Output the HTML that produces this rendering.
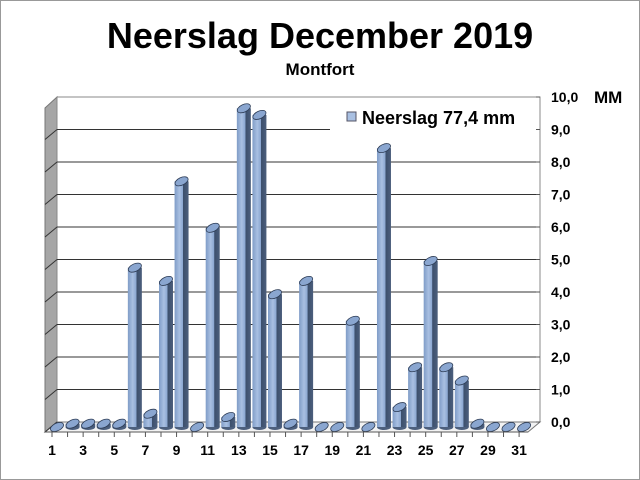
<!DOCTYPE html>
<html><head><meta charset="utf-8"><style>
body{margin:0;background:#fff}
svg{display:block;font-family:"Liberation Sans",Arial,sans-serif}
</style></head><body>
<svg id="s" width="640" height="480" xmlns="http://www.w3.org/2000/svg">
<defs>
<linearGradient id="bg" x1="0" x2="1">
<stop offset="0" stop-color="#7f9cc7"/><stop offset="0.35" stop-color="#a9c0e2"/><stop offset="0.6" stop-color="#8aa6d0"/><stop offset="0.62" stop-color="#3c4f6c"/><stop offset="1" stop-color="#4c5f7d"/>
</linearGradient>
</defs>
<rect x="0.5" y="0.5" width="639" height="479" fill="#fff" stroke="#999"/>
<text x="320" y="48" font-size="36" font-weight="bold" text-anchor="middle">Neerslag December 2019</text>
<text x="320" y="75" font-size="17" font-weight="bold" text-anchor="middle">Montfort</text>
<polygon points="45,108 57,97 57,422 45,432" fill="#a6a6a6" stroke="#777"/>
<rect x="57" y="97" width="483" height="325" fill="#fff" stroke="#888"/>
<polygon points="45,432 57,422 540,422 528,432" fill="#f2f2f2" stroke="#777"/>
<g id="grid"></g>
<g id="bars"></g>
<rect x="330" y="103" width="208" height="27" fill="#fff"/>
<rect x="347" y="112" width="9" height="9" fill="#a9c0e2" stroke="#556"/>
<text x="362" y="124" font-size="18" font-weight="bold">Neerslag 77,4 mm</text>
<line x1="540" y1="97" x2="540" y2="422" stroke="#888"/>
<g id="yl" font-size="14" font-weight="bold"></g>
<text x="594" y="103" font-size="17" font-weight="bold">MM</text>
<line x1="45" y1="432" x2="528" y2="432" stroke="#555"/>
<g id="xl" font-size="14" font-weight="bold" text-anchor="middle"></g>
</svg>
<script>
(function(){
var NS="http://www.w3.org/2000/svg";
function el(p,t,a,txt){var e=document.createElementNS(NS,t);for(var k in a)e.setAttribute(k,a[k]);if(txt!=null)e.textContent=txt;document.getElementById(p).appendChild(e);}
for(var i=0;i<=10;i++){var y=422-i*32.5;
 if(i>0&&i<10)el("grid","line",{x1:57,y1:y,x2:540,y2:y,stroke:"#333"});
 if(i<10)el("grid","line",{x1:45,y1:y+10,x2:57,y2:y,stroke:"#333"});
 el("yl","text",{x:551,y:y+5},i==10?"10,0":i+",0");
 el("yl","line",{x1:536,y1:y,x2:540,y2:y,stroke:"#555"});
}
var v=[0,0.1,0.1,0.1,0.1,4.8,0.4,4.4,7.4,0,6.0,0.3,9.6,9.4,4.0,0.1,4.4,0,0,3.2,0,8.4,0.6,1.8,5.0,1.8,1.4,0.1,0,0,0];
for(var d=0;d<31;d++){
 var lx=52+d*15.57, cx=lx+5, w=14, base=427, ty=base-v[d]*33.2;
 el("xl","line",{x1:lx,y1:432,x2:lx,y2:437,stroke:"#555"});
 if(d%2==0)el("xl","text",{x:lx,y:455},String(d+1));
 if(v[d]>0){
  el("bars","ellipse",{cx:cx,cy:base,rx:w/2,ry:3,fill:"#4c5f7d"});
  el("bars","rect",{x:cx-w/2,y:ty,width:w,height:base-ty,fill:"url(#bg)"});
 }
 el("bars","ellipse",{cx:cx,cy:ty,rx:w/2,ry:3.8,fill:"#8aa6d0",stroke:"#2d3c55","stroke-width":0.8,transform:"rotate(-25 "+cx+" "+ty+")"});
}
})();
</script>
</body></html>
